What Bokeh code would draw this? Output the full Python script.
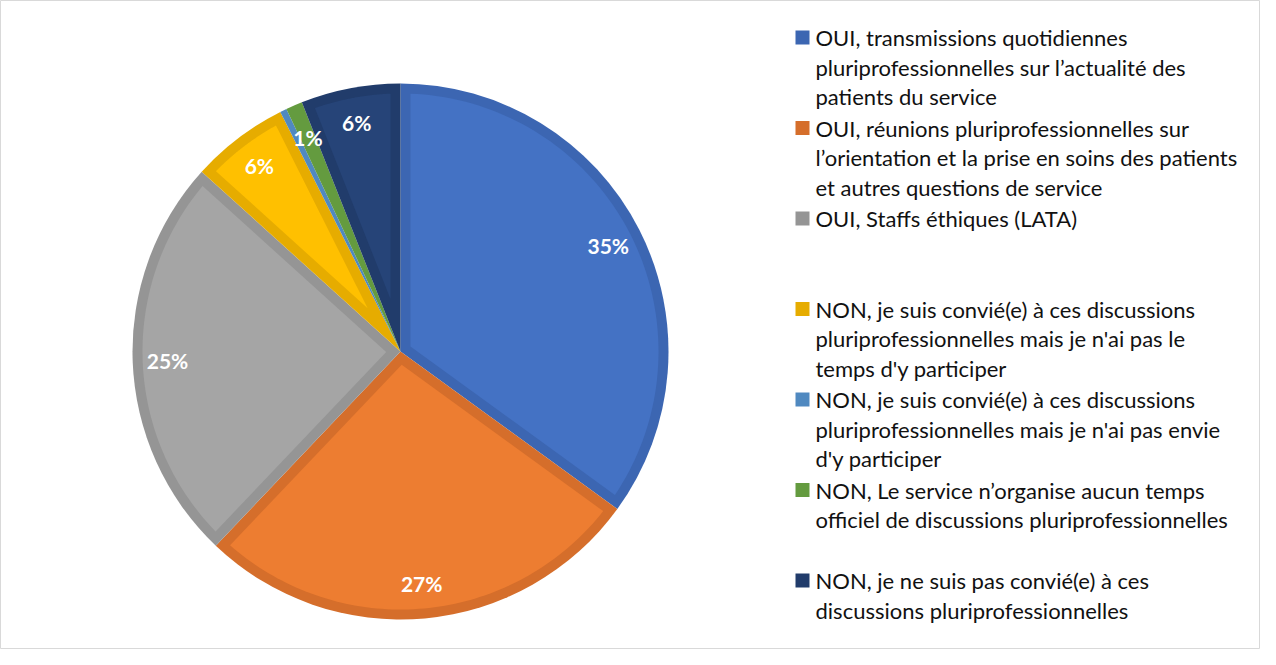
import math
from bokeh.plotting import figure
from bokeh.models import Range1d
from bokeh.core.properties import value
from bokeh.embed import file_html
from bokeh.resources import INLINE

# ---- data ----
categories = [
    "OUI, transmissions quotidiennes\npluriprofessionnelles sur l’actualité des\npatients du service",
    "OUI, réunions pluriprofessionnelles sur\nl’orientation et la prise en soins des patients\net autres questions de service",
    "OUI, Staffs éthiques (LATA)",
    "NON, je suis convié(e) à ces discussions\npluriprofessionnelles mais je n'ai pas le\ntemps d'y participer",
    "NON, je suis convié(e) à ces discussions\npluriprofessionnelles mais je n'ai pas envie\nd'y participer",
    "NON, Le service n’organise aucun temps\nofficiel de discussions pluriprofessionnelles",
    "NON, je ne suis pas convié(e) à ces\ndiscussions pluriprofessionnelles",
]
shares = [35.0, 27.1, 24.6, 5.9, 0.4, 1.0, 6.0]
fill_colors = ["#4472C4", "#ED7D31", "#A5A5A5", "#FFC000", "#5B9BD5", "#70AD47", "#264478"]
edge_colors = ["#3C66B2", "#D56E2B", "#959595", "#E6AC00", "#5089C0", "#649B3F", "#213C6B"]

# ---- layout ----
W, H = 1260, 649
p = figure(width=W, height=H, output_backend="svg", toolbar_location=None,
           x_range=Range1d(0, W), y_range=Range1d(0, H), min_border=0)
p.axis.visible = False
p.grid.visible = False
p.outline_line_color = "#D9D9D9"
p.outline_line_width = 1
p.background_fill_color = "white"

cx, cy, r = 400, 298, 268
border = 10

total = sum(shares)
cum = 0.0
starts, ends = [], []
for s in shares:
    a0 = math.pi / 2 - 2 * math.pi * (cum + s) / total
    a1 = math.pi / 2 - 2 * math.pi * cum / total
    starts.append(a0)
    ends.append(a1)
    cum += s

p.wedge(x=[cx] * len(shares), y=[cy] * len(shares), radius=r,
        start_angle=starts, end_angle=ends, fill_color=edge_colors,
        line_color=None)

# inner lighter region (inset by border width)
xs, ys, cols = [], [], []
Rp = r - border
da = math.asin(border / Rp)
for a0, a1, c in zip(starts, ends, fill_colors):
    half = (a1 - a0) / 2
    mid = (a0 + a1) / 2
    sdist = border / math.sin(half)
    if sdist >= Rp * math.cos(da) - 2 or a0 + da >= a1 - da:
        continue
    px = [cx + sdist * math.cos(mid)]
    py = [cy + sdist * math.sin(mid)]
    n = 80
    for i in range(n + 1):
        t = (a0 + da) + (a1 - a0 - 2 * da) * i / n
        px.append(cx + Rp * math.cos(t))
        py.append(cy + Rp * math.sin(t))
    xs.append(px)
    ys.append(py)
    cols.append(c)
p.patches(xs=xs, ys=ys, fill_color=cols, line_color=None)

# percentage labels
lx, ly, lt = [], [], []
for a0, a1, s in zip(starts, ends, shares):
    pct = int(s / total * 100 + 0.5)
    if pct == 0:
        continue
    mid = (a0 + a1) / 2
    rr = 0.87 * r
    lx.append(cx + rr * math.cos(mid))
    ly.append(cy + rr * math.sin(mid))
    lt.append(f"{pct}%")
p.text(x=lx, y=ly, text=lt, text_color="white", text_font=value("Lato"),
       text_font_style="bold", text_font_size="21px", text_align="center",
       text_baseline="middle")

# legend
top = H - 37
slot = 90.5
line_h = 29.7
sq_x, tx = 802, 815
gx, gy, gc = [], [], []
tx_l, ty_l, tt_l = [], [], []
for i, (cat, c) in enumerate(zip(categories, edge_colors)):
    y0 = top - i * slot
    gx.append(sq_x)
    gy.append(y0)
    gc.append(c)
    for j, line in enumerate(cat.split("\n")):
        tx_l.append(tx)
        ty_l.append(y0 - j * line_h)
        tt_l.append(line)
p.rect(x=gx, y=gy, width=14, height=14, fill_color=gc, line_color=None)
p.text(x=tx_l, y=ty_l, text=tt_l, text_color="#111111", text_font=value("Lato"),
       text_font_size="22px", text_align="left", text_baseline="middle")

open("out.html", "w").write(file_html(p, INLINE))
